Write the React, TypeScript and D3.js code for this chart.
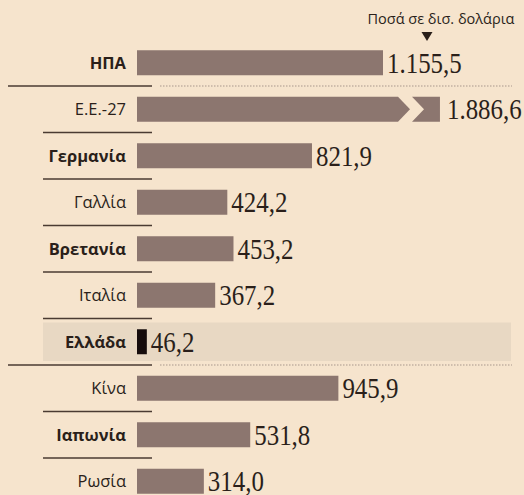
import React from "react";
import * as d3 from "d3";

const countries = ["ΗΠΑ", "Ε.Ε.-27", "Γερμανία", "Γαλλία", "Βρετανία", "Ιταλία", "Ελλάδα", "Κίνα", "Ιαπωνία", "Ρωσία"];
const values = [1155.5, 1886.6, 821.9, 424.2, 453.2, 367.2, 46.2, 945.9, 531.8, 314.0];
const boldLabels = [true, false, true, false, true, false, true, false, true, false];
const highlighted = ["Ελλάδα"];
const groupBreakAfter = ["ΗΠΑ", "Ελλάδα"];
const axisBreak = { start: 1226, shownEnd: 1423 };
const unitTitle = "Ποσά σε δισ. δολάρια";

const W = 524;
const H = 495;

const grLocale = d3.formatLocale({ decimal: ",", thousands: ".", grouping: [3], currency: ["", "€"] });
const fmt = grLocale.format(",.1f");

export default function App() {
  const x = d3.scaleLinear().domain([0, 1155.5]).range([137, 383]);
  const y = d3.scaleBand<string>().domain(countries).range([39.5, 504.5]).padding(0);
  const step = y.step();
  const barH = 25;

  const bg = "#f6e4cd";
  const barFill = "#8c766f";
  const textCol = "#2a1f1a";

  return (
    <div style={{ position: "fixed", left: 0, top: 0 }}>
      <svg width={W} height={H} style={{ display: "block" }}>
        <rect x={0} y={0} width={W} height={H} fill={bg} />
        {/* header */}
        <text x={441} y={24} textAnchor="middle" fontFamily="'Open Sans', sans-serif" fontSize={14.5} fill={textCol}>
          {unitTitle}
        </text>
        <path d="M421.5,32 L432.5,32 L427,41 Z" fill={textCol} />

        {countries.map((c, i) => {
          const top = y(c)!;
          const yc = top + step / 2;
          const y0 = yc - barH / 2;
          const y1 = yc + barH / 2;
          const v = values[i];
          const isHi = highlighted.includes(c);
          const broken = v > axisBreak.start + 300;
          let barEl;
          let endX;
          if (broken) {
            const xb = x(axisBreak.start);
            const xe = x(axisBreak.shownEnd);
            const tip = 12;
            const gap = 14;
            const x0 = x(0);
            barEl = (
              <g fill={barFill}>
                <path d={`M${x0},${y0} L${xb},${y0} L${xb + tip},${yc} L${xb},${y1} L${x0},${y1} Z`} />
                <path d={`M${xb + gap},${y0} L${xe},${y0} L${xe},${y1} L${xb + gap},${y1} L${xb + gap + tip},${yc} Z`} />
              </g>
            );
            endX = xe + 3;
          } else {
            barEl = (
              <rect x={x(0)} y={y0} width={x(v) - x(0)} height={barH} fill={isHi ? "#160c0c" : barFill} />
            );
            endX = x(v);
          }
          const sepY = top + step;
          const fullSep = groupBreakAfter.includes(c);
          return (
            <g key={c}>
              {isHi && <rect x={43} y={top + 4} width={468} height={step - 8} fill="#e8d8c3" />}
              {barEl}
              <text
                x={126}
                y={yc + 6}
                textAnchor="end"
                fontFamily="'Open Sans', sans-serif"
                fontSize={16.5}
                fontWeight={boldLabels[i] ? 700 : 400}
                fill={textCol}
              >
                {c}
              </text>
              <text
                transform={`translate(${endX + 4},${yc + 10}) scale(0.86,1)`}
                fontFamily="'Liberation Serif', serif"
                fontSize={29}
                fill={textCol}
              >
                {fmt(v)}
              </text>
              {i < countries.length - 1 && (
                <g>
                  <line
                    x1={fullSep ? 8 : 43}
                    x2={152}
                    y1={sepY}
                    y2={sepY}
                    stroke="#4a3b32"
                    strokeWidth={1.4}
                  />
                  {fullSep && (
                    <line x1={160} x2={512} y1={sepY} y2={sepY} stroke="#a8978c" strokeWidth={1} strokeDasharray="1.5,1.5" />
                  )}
                </g>
              )}
            </g>
          );
        })}
      </svg>
    </div>
  );
}
